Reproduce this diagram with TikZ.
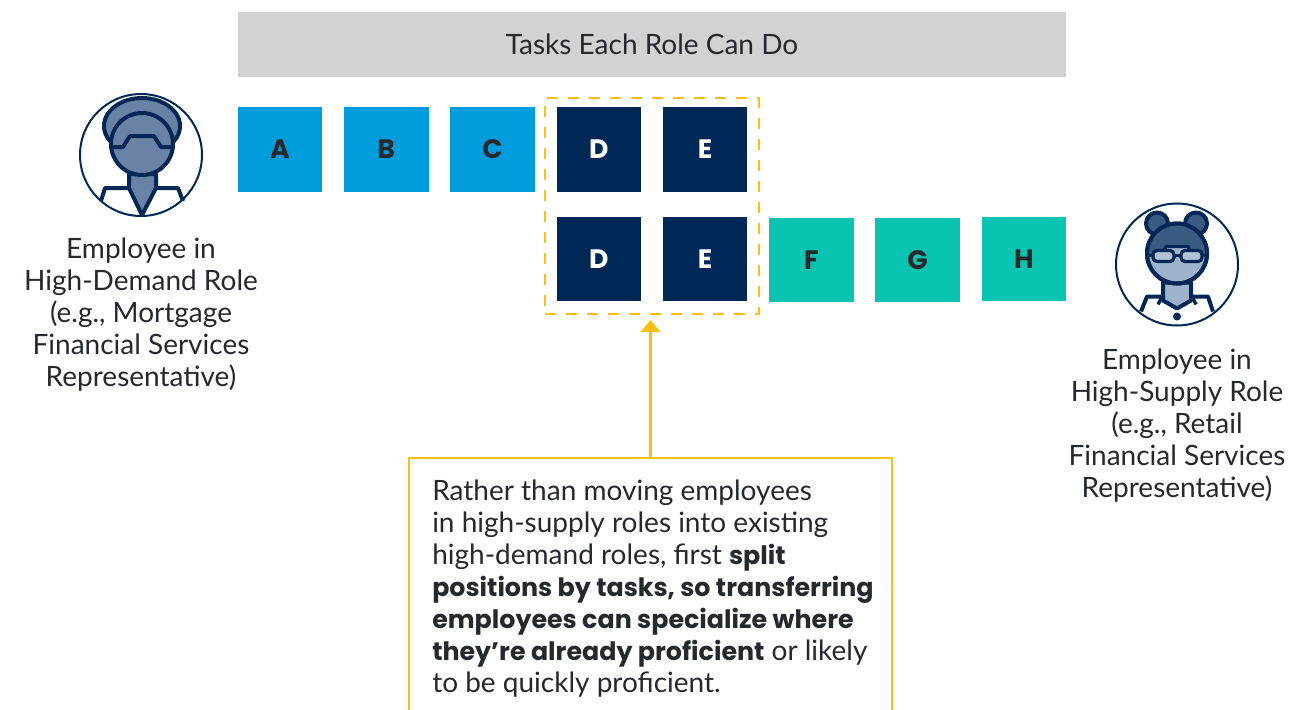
\documentclass[tikz,border=0pt]{standalone}
\usepackage{fontspec}
\setmainfont{Lato}
\newfontfamily\boldface{Poppins}[UprightFont=*-Bold]
\usetikzlibrary{fit, positioning, arrows.meta}
\definecolor{navy}{HTML}{002856}
\definecolor{skyblue}{HTML}{009CDB}
\definecolor{teal}{HTML}{08C4B0}
\definecolor{amber}{HTML}{FFBE16}
\definecolor{headband}{HTML}{D2D2D2}
\definecolor{inktext}{HTML}{25282C}
\definecolor{midblue}{HTML}{6A82A6}
\definecolor{darkblue}{HTML}{3C5B82}
\definecolor{paleblue}{HTML}{A0B3CC}

\begin{document}
\begin{tikzpicture}[x = 0.75pt, y = -0.75pt, font = \fontsize{21}{24}\selectfont, text = inktext,
  taskbox/.style = {minimum size = 63.4pt, inner sep = 0pt, outer sep = 0pt, font = \fontsize{20}{20}\boldface},
  role/.style = {align = center, inner sep = 0pt},
  icon/.style = {draw = navy, line width = 3pt, line join = round},
  fineicon/.style = {draw = navy, line width = 2.5pt, line join = round}]
  \useasboundingbox (0, 0) rectangle (1289, 710);

  \node (tasks) [fill = headband, minimum width = 621pt, minimum height = 48.75pt, inner sep = 0pt, outer sep = 0pt] at (652, 44.5) {\raisebox{-1.5pt}{Tasks Each Role Can Do}};

  \node (a) [taskbox, fill = skyblue] at (280, 149.5) {A};
  \node (b) [taskbox, fill = skyblue, right = 16.3pt of a] {B};
  \node (c) [taskbox, fill = skyblue, right = 16.3pt of b] {C};
  \node (d) [taskbox, fill = navy, text = white, right = 16.3pt of c] {D};
  \node (e) [taskbox, fill = navy, text = white, right = 16.3pt of d] {E};
  \node (dlow) [taskbox, fill = navy, text = white, below = 18.75pt of d] {D};
  \node (elow) [taskbox, fill = navy, text = white, below = 18.75pt of e] {E};
  \node (f) [taskbox, fill = teal, right = 16.3pt of elow, yshift = -0.75pt] {F};
  \node (g) [taskbox, fill = teal, right = 16.3pt of f] {G};
  \node (h) [taskbox, fill = teal, right = 16.3pt of g, yshift = 0.75pt] {H};

  \node (overlap) [fit = (d) (elow), draw = amber, line width = 1.75pt, dash pattern = on 8pt off 7.75pt, inner xsep = 8.5pt, inner ysep = 8.2pt, yshift = -1.5pt] {};

  \node (demand) [role, anchor = north] at (141, 238) {Employee in\\High-Demand Role\\(e.g., Mortgage\\Financial Services\\Representative)};
  \node (supply) [role, anchor = north] at (1177, 349) {Employee in\\High-Supply Role\\(e.g., Retail\\Financial Services\\Representative)};

  \node (callout) [minimum width = 362.25pt, minimum height = 189pt, inner sep = 0pt, outer sep = 0pt] at (650.5, 584) {};
  \node (callouttext) [anchor = north west, align = left, inner sep = 0pt] at (432, 480) {Rather than moving employees\\in high-supply roles into existing\\high-demand roles, first {\fontsize{19}{24}\boldface split}\\{\fontsize{19}{24}\boldface positions by tasks, so transferring}\\{\fontsize{19}{24}\boldface employees can specialize where}\\{\fontsize{19}{24}\boldface they’re already proficient} or likely\\to be quickly proficient.};
  \draw [amber, line width = 1.75pt] (callout.south west) |- (callout.north east) -- (callout.south east);
  \draw [amber, line width = 1.75pt, -{Triangle[width = 15pt, length = 9pt]}, shorten > = 3.5pt] (callout.north) -- (overlap.south -| callout.north);

  \node (demandring) [circle, draw = navy, line width = 1.5pt, minimum size = 91.5pt, inner sep = 0pt] at (141, 155) {};
  \begin{scope}[shift = {(demandring.center)}, x = 0.75pt, y = -0.75pt]
    \draw [icon, fill = midblue] (1, -29) ellipse (38 and 28);
    \draw [icon, fill = midblue] (-12, 19) -- (-12, 33) -- (1, 60) -- (15, 33) -- (15, 19) -- cycle;
    \draw [icon, fill = midblue] (1, -11) circle (31);
    \draw [icon] (-30, -8) -- (-18, -8) -- (-11, -19) -- (13, -19) -- (20, -8) -- (32, -8);
    \draw [icon] (-40, 46) -- (-36, 33) -- (-12, 33);
    \draw [icon] (15, 33) -- (37, 33) -- (42, 46);
  \end{scope}

  \node (supplyring) [circle, draw = navy, line width = 1.5pt, minimum size = 91.5pt, inner sep = 0pt] at (1177, 264.5) {};
  \begin{scope}[shift = {(supplyring.center)}, x = 0.75pt, y = -0.75pt]
    \draw [icon, fill = darkblue] (-20, -41) circle (11);
    \draw [icon, fill = darkblue] (19, -41) circle (11);
    \draw [icon, fill = paleblue] (-14, 18) -- (-14, 36) -- (0, 44) -- (14, 36) -- (14, 18) -- cycle;
    \draw [icon, fill = paleblue] (0, -11) circle (30);
    \begin{scope}
      \clip (0, -11) circle (30);
      \fill [darkblue] (-32, -9) -- (-15, -9) -- (-11, -18) -- (11, -18) -- (15, -9) -- (32, -9) -- (32, -44) -- (-32, -44) -- cycle;
    \end{scope}
    \draw [fineicon] (-15, -9) -- (-11, -18) -- (11, -18) -- (15, -9);
    \draw [icon] (0, -11) circle (30);
    \draw [fineicon, fill = paleblue!80, rounded corners = 3pt] (-24, -14) rectangle (-3, -3);
    \draw [fineicon, fill = paleblue!80, rounded corners = 3pt] (4, -14) rectangle (25, -3);
    \draw [fineicon] (-3, -9) -- (4, -9) (-32, -9) -- (-24, -9) (25, -9) -- (32, -9);
    \draw [icon] (-36, 47) -- (-30, 32) -- (-14, 32);
    \draw [icon] (14, 32) -- (31, 32) -- (36, 47);
    \draw [fineicon] (-19, 40) -- (-14, 30);
    \draw [fineicon] (19, 40) -- (14, 30);
    \fill [navy] (0, 52) circle (4);
  \end{scope}
\end{tikzpicture}
\end{document}
